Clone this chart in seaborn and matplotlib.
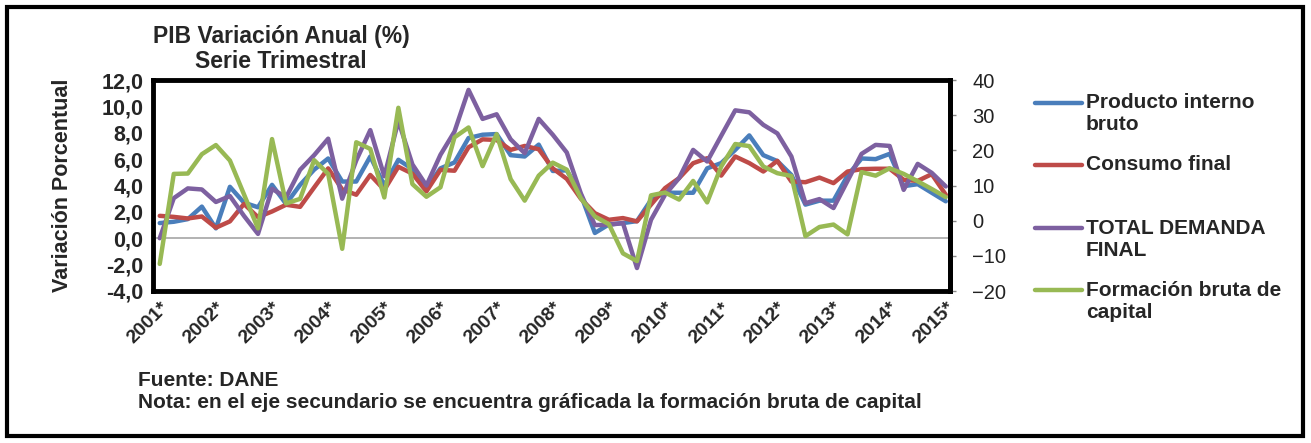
import matplotlib
matplotlib.use("Agg")
import matplotlib.pyplot as plt
from matplotlib.lines import Line2D
from matplotlib.patches import Rectangle
from matplotlib.ticker import FuncFormatter, MultipleLocator
import numpy as np
import pandas as pd
import seaborn as sns

# --- datos (variacion anual %, trimestral 2001T1 - 2015T1) ---
years = [f"{y}*" for y in range(2001, 2016)]

pib = [1.15, 1.25, 1.45, 2.4, 0.75, 3.9, 2.7, 2.35, 4.05, 2.6,
       4.05, 5.2, 6.05, 4.3, 4.3, 6.2, 4.0, 5.95, 5.25, 3.8,
       5.3, 5.75, 7.6, 7.85, 7.9, 6.3, 6.2, 7.1, 5.1, 5.15,
       3.3, 0.4, 1.05, 1.15, 1.3, 2.9, 3.45, 3.45, 3.45, 5.3,
       5.7, 6.7, 7.8, 6.3, 5.85, 4.8, 2.55, 2.85, 2.85, 4.75,
       6.05, 6.0, 6.4, 3.95, 4.1, 3.45, 2.8]

consumo = [1.7, 1.62, 1.5, 1.65, 0.8, 1.28, 2.6, 1.6, 2.03, 2.54,
           2.38, 3.85, 5.3, 3.7, 3.3, 4.8, 3.67, 5.42, 4.9, 3.55,
           5.19, 5.12, 6.9, 7.5, 7.45, 6.7, 7.0, 6.75, 5.3, 4.5,
           3.0, 1.9, 1.4, 1.53, 1.28, 2.55, 3.8, 4.56, 5.69, 6.07,
           4.75, 6.2, 5.7, 5.06, 5.87, 4.3, 4.25, 4.6, 4.18, 5.06,
           5.24, 5.27, 5.27, 4.43, 4.35, 4.86, 3.3]

demanda = [0.0, 3.04, 3.78, 3.7, 2.75, 3.2, 1.7, 0.33, 3.75, 3.1,
           5.19, 6.3, 7.55, 3.0, 5.9, 8.2, 4.7, 8.9, 5.6, 4.0,
           6.33, 8.09, 11.25, 9.05, 9.4, 7.5, 6.45, 9.05, 7.85, 6.5,
           3.4, 1.0, 1.02, 1.15, -2.26, 1.4, 3.3, 4.56, 6.7, 5.82,
           7.77, 9.7, 9.55, 8.6, 7.95, 6.2, 2.66, 2.97, 2.29, 4.35,
           6.4, 7.08, 7.0, 3.67, 5.64, 4.96, 3.93]

# eje secundario
fbk = [-12.3, 13.3, 13.4, 18.9, 21.5, 17.1, 7.5, -2.2, 23.2, 4.9,
       6.2, 17.2, 13.3, -8.0, 22.3, 20.4, 6.6, 32.1, 10.4, 6.8,
       9.5, 23.7, 26.5, 15.5, 24.6, 11.8, 5.7, 12.8, 16.5, 14.5,
       6.4, 1.2, -1.0, -9.3, -11.5, 7.2, 8.0, 6.0, 11.3, 5.2,
       15.4, 21.8, 21.2, 15.4, 13.5, 12.7, -4.4, -1.8, -1.1, -3.9,
       13.8, 12.8, 14.9, 13.3, 11.2, 9.0, 6.7]

names = ["Producto interno\nbruto", "Consumo final",
         "TOTAL DEMANDA\nFINAL", "Formación bruta de\ncapital"]
colors = ["#4A7EBB", "#BE4B48", "#7D60A0", "#98B954"]

df = pd.DataFrame({"t": np.arange(len(pib)), "pib": pib, "consumo": consumo,
                   "demanda": demanda, "fbk": fbk})

sns.set_style("white")
plt.rcParams["font.family"] = ["Liberation Sans", "DejaVu Sans"]

W, H = 1311, 443
fig = plt.figure(figsize=(W / 100, H / 100), dpi=100)
ax = fig.add_axes([153 / W, 1 - 291 / H, (950 - 153) / W, (291 - 80) / H])
ax2 = ax.twinx()

for col, c in zip(["pib", "consumo", "demanda"], colors[:3]):
    sns.lineplot(data=df, x="t", y=col, ax=ax, color=c, linewidth=3.2)
sns.lineplot(data=df, x="t", y="fbk", ax=ax2, color=colors[3], linewidth=3.2)

ax.axhline(0, color="#a6a6a6", linewidth=1.2, zorder=0)

ax.set_xlim(-0.48, 56.3)
ax.set_ylim(-4, 12)
ax2.set_ylim(-20, 40)
ax.yaxis.set_major_locator(MultipleLocator(2))
ax2.yaxis.set_major_locator(MultipleLocator(10))
ax.yaxis.set_major_formatter(FuncFormatter(lambda v, p: f"{v:.1f}".replace(".", ",")))

ax.set_xticks(range(0, len(pib), 4))
ax.set_xticklabels(years, rotation=45, ha="right", rotation_mode="anchor",
                   fontweight="bold", fontsize=14)
ax.tick_params(axis="x", length=0, pad=6)
ax.tick_params(axis="y", length=0, pad=7, labelsize=15.5)
for lb in ax.get_yticklabels():
    lb.set_fontweight("bold")
ax2.tick_params(axis="y", direction="out", length=4, width=1, color="#888888",
                pad=12, labelsize=14.5, labelcolor="#222222")

ax.set_xlabel("")
ax.set_ylabel("")
ax2.set_ylabel("")

for s in ax.spines.values():
    s.set_linewidth(3.5)
    s.set_color("black")
for k, s in ax2.spines.items():
    s.set_visible(k == "right")
    s.set_linewidth(3.5)
    s.set_color("black")

# titulo y textos
fig.text(281 / W, 1 - 49 / H, "PIB Variación Anual (%)\nSerie Trimestral",
         ha="center", va="center", fontsize=16.5, fontweight="bold", linespacing=1.15)
fig.text(62 / W, 1 - 185 / H, "Variación Porcentual", rotation=90,
         ha="center", va="center", fontsize=15.5, fontweight="bold")
fig.text(138 / W, 1 - 381 / H, "Fuente: DANE", ha="left", va="center",
         fontweight="bold", fontsize=15)
fig.text(138 / W, 1 - 403 / H,
         "Nota: en el eje secundario se encuentra gráficada la formación bruta de capital",
         ha="left", va="center", fontweight="bold", fontsize=15)

# leyenda
leg_y = [103, 165, 228, 290]
for name, c, y in zip(names, colors, leg_y):
    fig.add_artist(Line2D([1035 / W, 1082 / W], [1 - y / H, 1 - y / H],
                          color=c, linewidth=3.2, transform=fig.transFigure))
    for j, line in enumerate(name.split("\n")):
        fig.text(1086 / W, 1 - (y + 22 * j) / H, line, ha="left", va="center",
                 fontsize=15, fontweight="bold")

# marco exterior
fig.add_artist(Rectangle((7 / W, 7 / H), (1303 - 7) / W, (436 - 7) / H,
                         transform=fig.transFigure, fill=False,
                         edgecolor="black", linewidth=3))

fig.savefig("out.png", dpi=100)
